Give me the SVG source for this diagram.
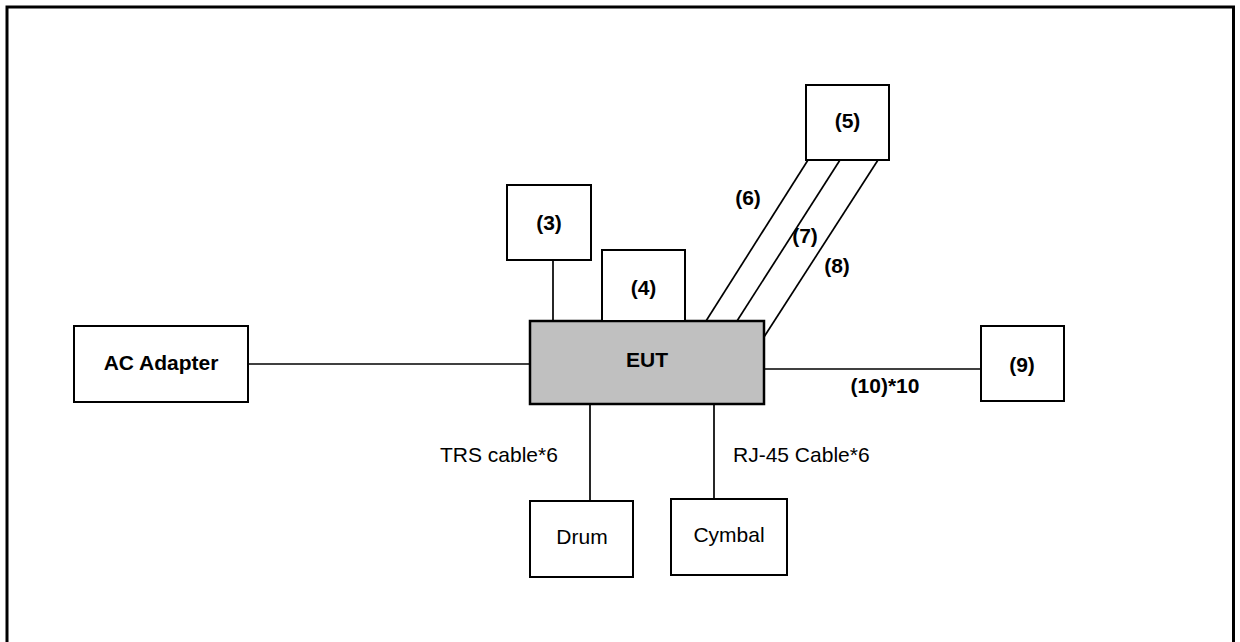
<svg xmlns="http://www.w3.org/2000/svg" width="1240" height="642" viewBox="0 0 1240 642">
<style>
.box{fill:#fff;stroke:#000;stroke-width:2}
.eut{fill:#c0c0c0;stroke:#000;stroke-width:2.5}
.ln{stroke:#000;stroke-width:1.7;fill:none}
text{font-family:"Liberation Sans",Arial,sans-serif;font-size:21px;fill:#000}
.b{font-weight:bold}
.c{text-anchor:middle}
</style>
<rect x="0" y="0" width="1240" height="642" fill="#fff"/>
<path d="M7 650 V7 H1233.5 V650" fill="none" stroke="#000" stroke-width="3"/>
<g id="connectors">
<line class="ln" x1="248" y1="364" x2="530" y2="364"/>
<line class="ln" x1="553" y1="260" x2="553" y2="321"/>
<line class="ln" x1="808" y1="160" x2="706" y2="321"/>
<line class="ln" x1="840" y1="160" x2="737" y2="321"/>
<line class="ln" x1="878" y1="160" x2="764" y2="337"/>
<line class="ln" x1="764" y1="369" x2="981" y2="369"/>
<line class="ln" x1="590" y1="404" x2="590" y2="501"/>
<line class="ln" x1="714" y1="404" x2="714" y2="499"/>
<text class="b c" x="748" y="205">(6)</text>
<text class="b c" x="805" y="243">(7)</text>
<text class="b c" x="837" y="273">(8)</text>
<text class="b c" x="885" y="393">(10)*10</text>
<text x="440" y="462">TRS cable*6</text>
<text x="733" y="462">RJ-45 Cable*6</text>
</g>
<g id="ac-adapter">
<rect class="box" x="74" y="326" width="174" height="76"/>
<text class="b c" x="161" y="370">AC Adapter</text>
</g>
<g id="eut">
<rect class="eut" x="530" y="321" width="234" height="83"/>
<text class="b c" x="647" y="367">EUT</text>
</g>
<g id="n3">
<rect class="box" x="507" y="185" width="84" height="75"/>
<text class="b c" x="549" y="230">(3)</text>
</g>
<g id="n4">
<rect class="box" x="602" y="250" width="83" height="71"/>
<text class="b c" x="643.5" y="295">(4)</text>
</g>
<g id="n5">
<rect class="box" x="806" y="85" width="83" height="75"/>
<text class="b c" x="847.5" y="128">(5)</text>
</g>
<g id="n9">
<rect class="box" x="981" y="326" width="83" height="75"/>
<text class="b c" x="1022" y="372">(9)</text>
</g>
<g id="drum">
<rect class="box" x="530" y="501" width="103" height="76"/>
<text class="c" x="582" y="544">Drum</text>
</g>
<g id="cymbal">
<rect class="box" x="671" y="499" width="116" height="76"/>
<text class="c" x="729" y="542">Cymbal</text>
</g>
</svg>
